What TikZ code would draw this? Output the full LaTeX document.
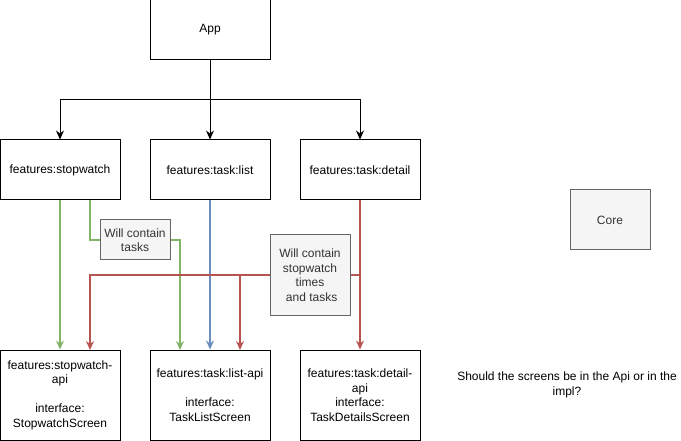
\documentclass[tikz,border=0pt]{standalone}
\usepackage{fontspec}
\setmainfont{Liberation Sans}
\usetikzlibrary{arrows.meta}
\pgfdeclarelayer{bg}
\pgfsetlayers{bg,main}
\definecolor{grn}{HTML}{82B366}
\definecolor{blu}{HTML}{6C8EBF}
\definecolor{rd}{HTML}{B85450}
\definecolor{gfill}{HTML}{F5F5F5}
\definecolor{gline}{HTML}{666666}
\definecolor{gtext}{HTML}{333333}
\tikzset{
  box/.style={draw=black, fill=white, line width=1pt, minimum width=120pt, minimum height=60pt, inner sep=0pt, align=center, font=\fontsize{12}{14.5}\selectfont},
  tallbox/.style={box, minimum height=90pt},
  greybox/.style={draw=gline, fill=gfill, text=gtext, line width=1pt, inner sep=0pt, align=center, font=\fontsize{12}{14.5}\selectfont},
  conn/.style={line width=1pt, -{Stealth[length=9pt,width=8pt,inset=3pt]}},
  plain/.style={line width=1pt},
  gl/.style={draw=grn, line width=1.5pt},
  bl/.style={draw=blu, line width=1.5pt},
  rl/.style={draw=rd, line width=1.5pt},
}
\begin{document}
\begin{tikzpicture}[x=1pt,y=-1pt]
\useasboundingbox (0,0) rectangle (681,441);
% top-level nodes
\node[box] (app) at (210,30) {App};
\node[box] (sw) at (60,170) {features:stopwatch};
\node[box] (list) at (210,170) {features:task:list};
\node[box] (det) at (360,170) {features:task:detail};
\node[tallbox] (swapi) at (60,395) {features:stopwatch-\\api\\[14.5pt]interface:\\StopwatchScreen};
\node[tallbox] (lapi) at (210,395) {features:task:list-api\\[14.5pt]interface:\\TaskListScreen};
\node[tallbox] (dapi) at (360,395) {features:task:detail-\\api\\interface:\\TaskDetailsScreen};
\node[greybox, minimum width=80pt, minimum height=60pt] (core) at (610,220) {Core};
\node[font=\fontsize{12}{14.5}\selectfont, align=center] (q) at (567,385) {Should the screens be in the Api or in the\\impl?};
% label nodes
\node[greybox, minimum width=70pt, minimum height=40pt] (lbl1) at (135,240) {Will contain\\tasks};
\node[greybox, minimum width=80pt, minimum height=80pt] (lbl2) at (310,275) {Will contain\\stopwatch\\times\\\ and tasks};
% coordinates
\coordinate (split) at (210,100);
\coordinate (gstart) at (90,200);
\coordinate (gend) at (180,350);
\coordinate (rbranch) at (360,275);
\coordinate (rend1) at (90,350);
\coordinate (rend2) at (240,350);
\begin{pgfonlayer}{bg}
% black connectors
\draw[plain] (app.south) -- (split);
\draw[conn] (split) -| (sw.north);
\draw[conn] (split) -- (list.north);
\draw[conn] (split) -| (det.north);
% green
\draw[conn, gl] (sw.south) -- (swapi.north);
\draw[gl] (gstart) |- (lbl1.west);
\draw[conn, gl] (lbl1.east) -| (gend);
% blue
\draw[conn, bl] (list.south) -- (lapi.north);
% red
\draw[conn, rl] (det.south) -- (dapi.north);
\draw[rl] (rbranch) -- (lbl2.east);
\draw[conn, rl] (lbl2.west) -| (rend1);
\draw[conn, rl] (lbl2.west) -| (rend2);
\end{pgfonlayer}
\end{tikzpicture}
\end{document}
